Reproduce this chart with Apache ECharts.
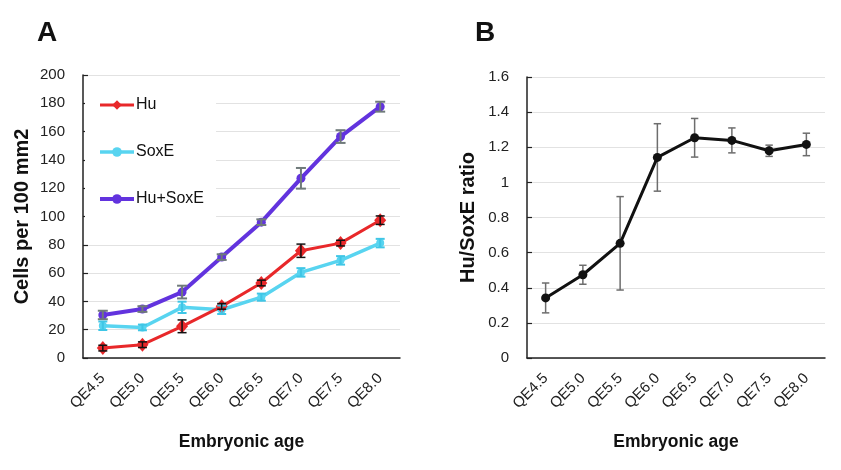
<!DOCTYPE html>
<html>
<head>
<meta charset="utf-8">
<script src="https://cdn.jsdelivr.net/npm/echarts@6/dist/echarts.min.js"></script>
<style>
html,body{margin:0;padding:0;background:#fff;}
#main{width:841px;height:470px;}
</style>
</head>
<body>
<div id="main"></div>
<script>
var categories = ['QE4.5','QE5.0','QE5.5','QE6.0','QE6.5','QE7.0','QE7.5','QE8.0'];
var huMean = [7, 9.4, 22.4, 36.5, 53, 75.8, 81.2, 97.4];
var huErr = [2, 2, 4.5, 2, 2, 4.7, 2, 3];
var soxMean = [22.8, 21.6, 35.8, 34.1, 43, 60.5, 69, 81.2];
var soxErr = [3, 2, 4, 3, 2.5, 3, 3, 3];
var totalMean = [30.4, 34.6, 46.6, 71.3, 96, 127, 156.5, 177.6];
var totalErr = [3, 2, 4.5, 2, 2, 7.3, 4.5, 3.5];
var ratioMean = [0.342, 0.474, 0.653, 1.142, 1.254, 1.239, 1.18, 1.216];
var ratioErr = [0.085, 0.054, 0.266, 0.192, 0.11, 0.071, 0.032, 0.064];

var FONT = '"Liberation Sans", Arial, sans-serif';

function errData(mean, err){
    var out = [];
    for (var i = 0; i < mean.length; i++) {
        out.push([i, mean[i] - err[i], mean[i] + err[i]]);
    }
    return out;
}

function errSeries(idx, mean, err, color, capW, lw, z){
    return {
        type: 'custom',
        xAxisIndex: idx,
        yAxisIndex: idx,
        z: z,
        silent: true,
        renderItem: function (params, api) {
            var lo = api.coord([api.value(0), api.value(1)]);
            var hi = api.coord([api.value(0), api.value(2)]);
            var st = {stroke: color, lineWidth: lw};
            return {
                type: 'group',
                children: [
                    {type: 'line', shape: {x1: lo[0], y1: lo[1], x2: hi[0], y2: hi[1]}, style: st},
                    {type: 'line', shape: {x1: lo[0] - capW, y1: lo[1], x2: lo[0] + capW, y2: lo[1]}, style: st},
                    {type: 'line', shape: {x1: hi[0] - capW, y1: hi[1], x2: hi[0] + capW, y2: hi[1]}, style: st}
                ]
            };
        },
        encode: {x: 0, y: [1, 2]},
        data: errData(mean, err)
    };
}

function xAx(idx){
    return {
        type: 'category',
        gridIndex: idx,
        data: categories,
        boundaryGap: true,
        name: 'Embryonic age',
        nameLocation: 'middle',
        nameGap: 75,
        nameTextStyle: {fontFamily: FONT, fontWeight: 'bold', fontSize: 17.5, color: '#111'},
        axisLine: {lineStyle: {color: '#222', width: 1.5}},
        axisTick: {alignWithLabel: true, length: 7, lineStyle: {color: '#222', width: 1.2}},
        axisLabel: {rotate: 45, fontFamily: FONT, fontSize: 15, color: '#222', margin: 18}
    };
}

function yAx(idx, max, step, name, gap){
    return {
        type: 'value', gridIndex: idx, min: 0, max: max, interval: step,
        name: name, nameLocation: 'middle', nameGap: gap, nameRotate: 90,
        nameTextStyle: {fontFamily: FONT, fontWeight: 'bold', fontSize: 20, color: '#111'},
        axisLine: {show: true, lineStyle: {color: '#222', width: 1.5}},
        axisTick: {show: true, inside: true, length: 5, lineStyle: {color: '#222', width: 1.2}},
        axisLabel: {fontFamily: FONT, fontSize: 15, color: '#222', margin: 18,
            formatter: function (v) { return String(Math.round(v * 10) / 10); }},
        splitLine: {lineStyle: {color: '#e2e2e2', width: 1}}
    };
}

var chart = echarts.init(document.getElementById('main'), null, {renderer: 'canvas'});

var option = {
    backgroundColor: '#fff',
    animation: false,
    title: [
        {text: 'A', left: 32, top: 14, textStyle: {fontFamily: FONT, fontWeight: 'bold', fontSize: 28, color: '#111'}},
        {text: 'B', left: 470, top: 14, textStyle: {fontFamily: FONT, fontWeight: 'bold', fontSize: 28, color: '#111'}}
    ],
    grid: [
        {left: 83, top: 75, right: 441, bottom: 112},
        {left: 527, top: 77, right: 16, bottom: 112}
    ],
    legend: {
        data: ['Hu', 'SoxE', 'Hu+SoxE'],
        orient: 'vertical',
        left: 85,
        top: 87,
        padding: [10, 12, 12, 13],
        itemGap: 31,
        itemWidth: 34,
        itemHeight: 12,
        backgroundColor: '#fff',
        lineStyle: {width: 'inherit'},
        textStyle: {fontFamily: FONT, fontSize: 16, color: '#111', padding: [0, 0, 0, -3]},
        z: 20
    },
    xAxis: [xAx(0), xAx(1)],
    yAxis: [
        yAx(0, 200, 20, 'Cells per 100 mm2', 51),
        yAx(1, 1.6, 0.2, 'Hu/SoxE ratio', 49)
    ],
    series: [
        {
            name: 'Hu+SoxE', type: 'line', xAxisIndex: 0, yAxisIndex: 0, data: totalMean,
            symbol: 'circle', symbolSize: 9, z: 3,
            lineStyle: {color: '#6233de', width: 4}, itemStyle: {color: '#6233de'}
        },
        {
            name: 'SoxE', type: 'line', xAxisIndex: 0, yAxisIndex: 0, data: soxMean,
            symbol: 'circle', symbolSize: 8, z: 3,
            lineStyle: {color: '#58d4f0', width: 3.5}, itemStyle: {color: '#58d4f0'}
        },
        {
            name: 'Hu', type: 'line', xAxisIndex: 0, yAxisIndex: 0, data: huMean,
            symbol: 'diamond', symbolSize: [12, 14], z: 3,
            lineStyle: {color: '#e8282a', width: 3}, itemStyle: {color: '#e8282a'}
        },
        errSeries(0, totalMean, totalErr, '#6f7a7a', 5, 2, 4),
        errSeries(0, soxMean, soxErr, '#3fc6e6', 4.5, 2, 4),
        errSeries(0, huMean, huErr, '#111', 4.5, 1.5, 4),
        errSeries(1, ratioMean, ratioErr, '#6d6d6d', 3.7, 1.5, 2),
        {
            name: 'ratio', type: 'line', xAxisIndex: 1, yAxisIndex: 1, data: ratioMean,
            symbol: 'circle', symbolSize: 9, z: 3,
            lineStyle: {color: '#111', width: 3}, itemStyle: {color: '#111'}
        }
    ]
};
chart.setOption(option);
</script>
</body>
</html>
